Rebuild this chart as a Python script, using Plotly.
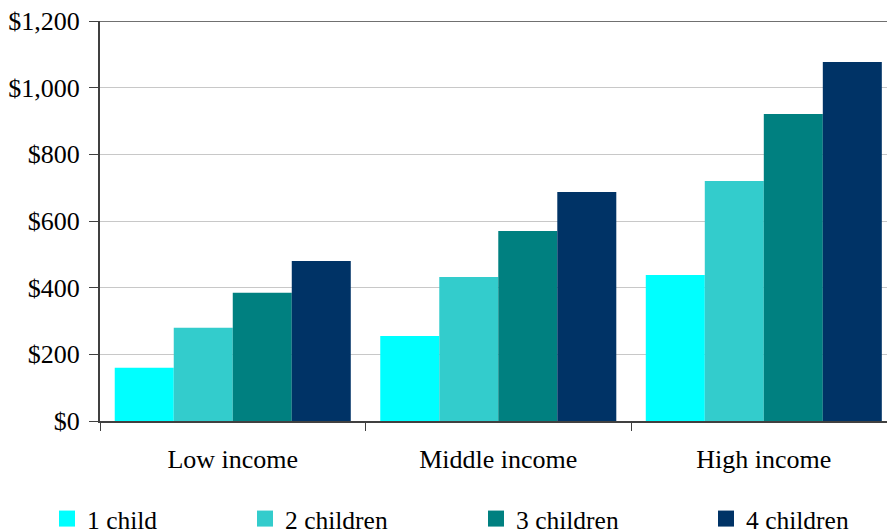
import plotly.graph_objects as go

# Average monthly spending by household income and number of children
categories = ["Low income", "Middle income", "High income"]
series_names = ["1 child", "2 children", "3 children", "4 children"]
one_child = [160, 255, 438]
two_children = [280, 432, 720]
three_children = [385, 570, 921]
four_children = [480, 687, 1077]
series_values = [one_child, two_children, three_children, four_children]
colors = ["#00FFFF", "#33CCCC", "#008080", "#003366"]
y_tick_values = [0, 200, 400, 600, 800, 1000, 1200]
y_tick_labels = ["$0", "$200", "$400", "$600", "$800", "$1,000", "$1,200"]

FONT = "Liberation Serif"
FS = 26

fig = go.Figure()

legend_ids = ["legend", "legend2", "legend3", "legend4"]
for name, vals, col, lg in zip(series_names, series_values, colors, legend_ids):
    fig.add_trace(go.Bar(
        x=categories, y=vals, name=name, marker=dict(color=col, line=dict(width=0)),
        showlegend=False, legendgroup=name,
    ))
    # legend entry drawn with a larger square swatch
    fig.add_trace(go.Scatter(
        x=[None], y=[None], mode="markers", name=name, legendgroup=name,
        marker=dict(symbol="square", size=16, color=col), legend=lg,
    ))

legend_x_px = [47, 245, 476, 706]
plot_left, plot_w = 100, 787
legend_common = dict(orientation="h", yanchor="middle", y=-0.245, xanchor="left",
                     font=dict(family=FONT, size=25.5, color="black"),
                     bgcolor="rgba(0,0,0,0)", borderwidth=0)
legends = {}
for lg, px in zip(legend_ids, legend_x_px):
    legends[lg] = dict(x=(px - plot_left) / plot_w, **legend_common)

fig.update_layout(
    width=887, height=532,
    margin=dict(l=100, r=0, t=21, b=111, pad=0, autoexpand=False),
    paper_bgcolor="white", plot_bgcolor="white",
    barmode="group", bargap=0.111, bargroupgap=0,
    font=dict(family=FONT, size=FS, color="black"),
    xaxis=dict(
        type="category", range=[-0.5, 2.464],
        showline=True, linecolor="#404040", linewidth=2,
        ticks="outside", tickson="boundaries", ticklen=8, tickcolor="#404040", tickwidth=1,
        ticklabelstandoff=14,
        showgrid=False, tickfont=dict(family=FONT, size=FS, color="black"),
    ),
    yaxis=dict(
        range=[0, 1200], tickvals=y_tick_values, ticktext=y_tick_labels,
        showline=True, linecolor="#404040", linewidth=2,
        ticks="outside", ticklen=9, tickcolor="#404040", tickwidth=1,
        ticklabelstandoff=4,
        showgrid=True, gridcolor="#C8C8C8", gridwidth=1,
        zeroline=False, tickfont=dict(family=FONT, size=FS, color="black"),
    ),
    shapes=[dict(type="line", xref="paper", yref="y", x0=0, x1=1, y0=1200, y1=1200,
                 line=dict(color="#707070", width=2))],
    **legends,
)

fig.write_html("out.html")
